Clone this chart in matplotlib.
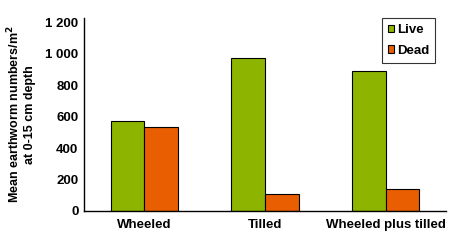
import matplotlib
matplotlib.use("Agg")
import matplotlib.pyplot as plt
import numpy as np

plt.rcParams['font.family'] = ['Liberation Sans', 'DejaVu Sans']
plt.rcParams['font.weight'] = 'bold'

# treatments and earthworm counts
categories = ["Wheeled", "Tilled", "Wheeled plus tilled"]
live = [570, 970, 887]
dead = [531, 108, 140]
yticks = [0, 200, 400, 600, 800, 1000, 1200]
ytick_labels = ["0", "200", "400", "600", "800", "1 000", "1 200"]

green = "#8db500"
orange = "#e85e00"

fig = plt.figure(figsize=(4.5, 2.41), dpi=100)
ax = fig.add_axes([0.1867, 0.1245, 0.8043, 0.8005])

x = np.arange(len(categories))
w = 0.28
ax.bar(x - w / 2, live, w, color=green, edgecolor="black", linewidth=0.8, label="Live")
ax.bar(x + w / 2, dead, w, color=orange, edgecolor="black", linewidth=0.8, label="Dead")

ax.set_xlim(-0.5, 2.5)
ax.set_ylim(0, 1225)
ax.set_yticks(yticks)
ax.set_yticklabels(ytick_labels)
ax.set_xticks(x)
ax.set_xticklabels(categories)
ax.tick_params(axis="both", length=0, labelsize=9.5)
ax.tick_params(axis="y", pad=4)
ax.tick_params(axis="x", pad=6)
for s in ["top", "right"]:
    ax.spines[s].set_visible(False)
for s in ["left", "bottom"]:
    ax.spines[s].set_linewidth(1.0)

ax.set_ylabel("Mean earthworm numbers/m$^\\mathbf{2}$\nat 0-15 cm depth",
              fontsize=9, fontweight="bold", labelpad=7, linespacing=1.15)

leg = ax.legend(loc="upper right", bbox_to_anchor=(0.97, 1.0), borderaxespad=0,
                fontsize=9.5, frameon=True, fancybox=False, edgecolor="black",
                handlelength=0.5, handleheight=0.5, handletextpad=0.2,
                borderpad=0.45, labelspacing=0.65)
leg.get_frame().set_linewidth(0.8)

fig.savefig("out.png", dpi=100)
